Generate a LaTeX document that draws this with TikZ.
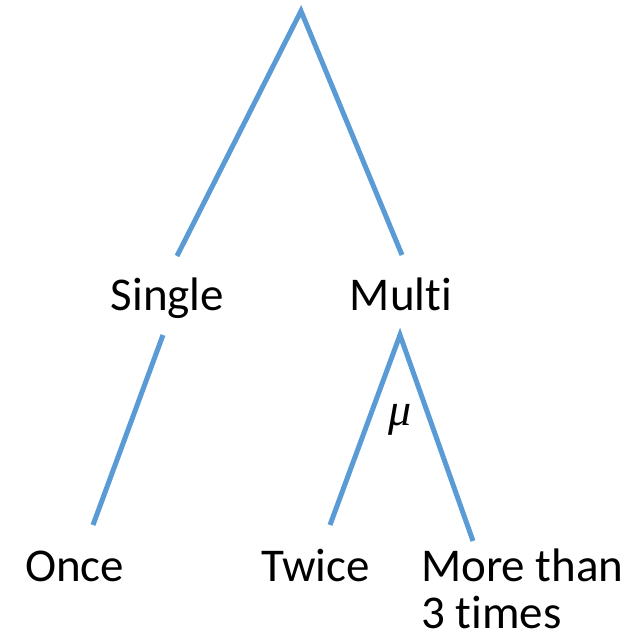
\documentclass[tikz,border=0pt]{standalone}
\usepackage{fontspec}
\setmainfont[Ligatures=NoCommon]{Carlito}
\newfontfamily\mufont{Liberation Serif}
\definecolor{branch}{HTML}{5B9BD5}
\begin{document}
\begin{tikzpicture}[x=1pt,y=-1pt,
  branchline/.style={draw=branch,line width=5pt,line join=miter,line cap=butt},
  lbl/.style={inner sep=0pt,font=\fontsize{47}{47}\selectfont}]
\useasboundingbox (0,0) rectangle (640,641);
% labels
\node[lbl,anchor=base] (single) at (167.5,310) {Single};
\node[lbl,anchor=base] (multi) at (401,310) {Multi};
\node[lbl,anchor=base west] (once) at (25,581) {Once};
\node[lbl,anchor=base west] (twice) at (261,581) {Twice};
\node[lbl,anchor=base west,align=left] (more) at (421,628) {More than\\3 times};
\node[inner sep=0pt,font=\mufont\itshape\fontsize{46}{46}\selectfont] (mu) at (400,420) {μ};
% branch points
\coordinate (root) at (301,11);
\coordinate (rootL) at (177,256);
\coordinate (rootR) at (402,255);
\coordinate (singleTop) at (163,335);
\coordinate (onceTop) at (93,525);
\coordinate (multiTop) at (400,335);
\coordinate (twiceTop) at (330,525);
\coordinate (moreTop) at (473,541);
% connectors
\draw[branchline] (rootL) -- (root) -- (rootR);
\draw[branchline] (singleTop) -- (onceTop);
\draw[branchline] (twiceTop) -- (multiTop) -- (moreTop);
\end{tikzpicture}
\end{document}
